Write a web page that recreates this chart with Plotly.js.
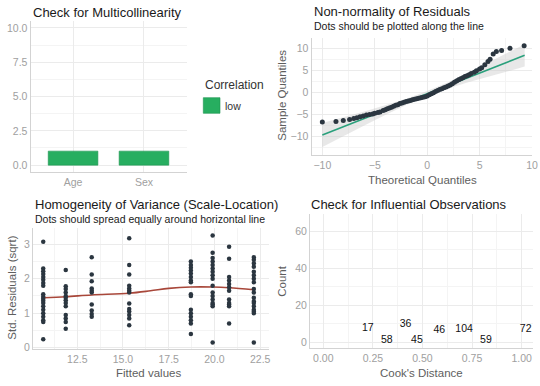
<!DOCTYPE html>
<html>
<head>
<meta charset="utf-8">
<script src="https://cdn.plot.ly/plotly-3.0.1.min.js"></script>
<style>html,body{margin:0;padding:0;background:#fff;}#chart{width:540px;height:386px;}</style>
</head>
<body>
<div id="chart"></div>
<script>
// ---- Panel 1: Multicollinearity (VIF) ----
const vifTerms = ["Age", "Sex"];
const vifValues = [1.02, 1.02];
const vifGroup = "low";

// ---- Panel 2: QQ plot ----
const qqX = [-10.0, -8.7, -8.0, -7.4, -7.0, -6.7, -6.4, -6.1, -5.8, -5.5, -5.2, -5.0, -4.7, -4.5, -4.2, -4.0, -3.8, -3.6, -3.4, -3.2, -3.0, -2.8, -2.6, -2.4, -2.2, -2.0, -1.8, -1.6, -1.4, -1.2, -1.0, -0.8, -0.6, -0.4, -0.2, 0.0, 0.2, 0.4, 0.6, 0.8, 1.0, 1.2, 1.4, 1.6, 1.8, 2.0, 2.2, 2.4, 2.6, 2.8, 3.0, 3.2, 3.4, 3.6, 3.8, 4.0, 4.2, 4.5, 4.7, 5.0, 5.2, 5.5, 5.8, 6.0, 6.3, 6.6, 7.1, 7.9, 9.25];
const qqY = [-6.7, -6.55, -6.35, -6.1, -5.9, -5.7, -5.5, -5.3, -5.1, -5.0, -4.85, -4.7, -4.5, -4.4, -4.1, -3.9, -3.7, -3.5, -3.35, -3.1, -2.9, -2.75, -2.5, -2.35, -2.2, -2.05, -1.9, -1.8, -1.65, -1.55, -1.4, -1.3, -1.2, -1.1, -0.95, -0.8, -0.5, -0.3, -0.05, 0.2, 0.45, 0.65, 0.85, 1.05, 1.25, 1.45, 1.7, 1.95, 2.3, 2.6, 2.9, 3.1, 3.35, 3.6, 3.8, 4.0, 4.3, 4.6, 4.9, 5.3, 5.6, 6.3, 7.0, 7.5, 8.7, 9.3, 9.5, 10.0, 10.6];
const qqLineX = [-10.0, 9.3];
const qqLineY = [-9.6, 8.41];
const bandX = [-10, -8, -6, -4, -2, 0, 2, 4, 6, 8, 9.3];
const bandUpper = [-6.9, -5.63, -4.27, -2.9, -1.44, 0.33, 2.3, 4.56, 7.03, 9.39, 10.9];
const bandLower = [-12.3, -9.83, -7.47, -5.1, -2.84, -0.87, 0.9, 2.36, 3.63, 4.99, 5.9];

// ---- Panel 3: Scale-location ----
const fittedLevels = [10.64, 11.87, 13.29, 15.34, 18.71, 19.9, 20.8, 22.15];
const stdResByLevel = [
  [3.07, 2.3, 2.22, 2.14, 2.05, 1.97, 1.88, 1.8, 1.55, 1.48, 1.42, 1.36, 1.3, 1.2, 1.1, 1.0, 0.9, 0.8, 0.75, 0.25],
  [2.25, 1.78, 1.7, 1.6, 1.5, 1.45, 1.38, 1.3, 1.2, 0.95, 0.85, 0.75, 0.55],
  [2.62, 2.12, 1.93, 1.72, 1.65, 1.6, 1.25, 1.08, 0.98, 0.9],
  [3.17, 2.4, 2.12, 1.8, 1.72, 1.65, 1.6, 1.28, 1.12, 1.05, 0.95, 0.85, 0.65],
  [2.5, 2.4, 2.32, 2.24, 2.15, 2.05, 1.95, 1.9, 1.55, 1.5, 1.1, 1.0, 0.9, 0.8, 0.7, 0.4],
  [3.25, 2.75, 2.6, 2.5, 2.4, 2.3, 2.2, 2.1, 2.0, 1.8, 1.6, 1.5, 1.4, 1.3, 1.25, 1.2, 0.15],
  [2.93, 2.58, 2.05, 1.95, 1.85, 1.75, 1.65, 1.4, 1.3, 1.25, 1.2, 0.7],
  [2.62, 2.55, 2.45, 2.35, 2.2, 2.1, 2.0, 1.9, 1.7, 1.6, 1.45, 1.35, 1.3, 1.2, 1.1, 1.05, 1.0, 0.15]
];
const smoothX = [10.64, 11.87, 13.29, 15.34, 16.5, 17.5, 18.71, 19.9, 20.8, 22.15];
const smoothY = [1.45, 1.48, 1.53, 1.58, 1.65, 1.72, 1.76, 1.76, 1.74, 1.68];

// ---- Panel 4: Influential observations ----
const cookIds = ["17", "58", "36", "45", "46", "104", "59", "72"];
const cookDist = [0.224, 0.32, 0.415, 0.472, 0.585, 0.71, 0.82, 1.02];
const cookCount = [7.2, 1.1, 9.8, 1.1, 6.3, 6.9, 1.1, 7.0];

// ---- build ----
const FONT = "Liberation Sans, Arial, sans-serif";
const tickFont = {family: FONT, size: 10.5, color: "#a0a0a0"};
const GRID = "#ebebeb", MINOR = "#f4f4f4", AXL = "#d3d3d3";
const POINT = "#2b3640";

function ax(extra) {
  return Object.assign({
    showgrid: true, gridcolor: GRID, gridwidth: 1,
    zeroline: false, showline: true, linecolor: AXL, linewidth: 1,
    ticks: "", tickfont: tickFont, fixedrange: true
  }, extra);
}

const sX = [], sY = [];
fittedLevels.forEach((f, i) => stdResByLevel[i].forEach(v => { sX.push(f); sY.push(v); }));

const traces = [
  {type: "bar", x: vifTerms, y: vifValues, name: vifGroup, width: 0.7,
   marker: {color: "#27ae60", line: {color: "#1f9450", width: 0.6}},
   xaxis: "x", yaxis: "y", showlegend: false, hoverinfo: "skip"},
  {type: "scatter", mode: "lines", x: bandX, y: bandLower, line: {width: 0, color: "rgba(0,0,0,0)"},
   xaxis: "x2", yaxis: "y2", showlegend: false, hoverinfo: "skip"},
  {type: "scatter", mode: "lines", x: bandX, y: bandUpper, fill: "tonexty", fillcolor: "rgba(200,200,200,0.42)",
   line: {width: 0, color: "rgba(0,0,0,0)"}, xaxis: "x2", yaxis: "y2", showlegend: false, hoverinfo: "skip"},
  {type: "scatter", mode: "lines", x: qqLineX, y: qqLineY, line: {color: "#2aa07c", width: 1.6},
   xaxis: "x2", yaxis: "y2", showlegend: false, hoverinfo: "skip"},
  {type: "scatter", mode: "markers", x: qqX, y: qqY, marker: {color: POINT, size: 5},
   xaxis: "x2", yaxis: "y2", showlegend: false, hoverinfo: "skip"},
  {type: "scatter", mode: "lines", x: smoothX, y: smoothY, line: {color: "#a8473a", width: 1.6, shape: "spline"},
   xaxis: "x3", yaxis: "y3", showlegend: false, hoverinfo: "skip"},
  {type: "scatter", mode: "markers", x: sX, y: sY, marker: {color: POINT, size: 4.5},
   xaxis: "x3", yaxis: "y3", showlegend: false, hoverinfo: "skip"},
  {type: "scatter", mode: "text", x: cookDist, y: cookCount, text: cookIds, textposition: "middle center",
   textfont: {family: FONT, size: 10.5, color: "#111"},
   xaxis: "x4", yaxis: "y4", showlegend: false, hoverinfo: "skip"}
];

const ttl = {family: FONT, size: 13, color: "#1a1a1a"};
const sub = {family: FONT, size: 10.5, color: "#1a1a1a"};
const axt = {family: FONT, size: 11.5, color: "#5e5e5e"};
function ann(text, x, y, font, extra) {
  return Object.assign({text, x, y, xref: "paper", yref: "paper", showarrow: false,
    xanchor: "left", yanchor: "middle", font}, extra || {});
}

const layout = {
  width: 540, height: 386,
  margin: {l: 0, r: 0, t: 0, b: 0},
  paper_bgcolor: "#fff", plot_bgcolor: "#fff",
  showlegend: false, bargap: 0.3,
  xaxis: ax({domain: [0.0565, 0.3454], anchor: "y", type: "category", range: [-0.6, 1.6]}),
  yaxis: ax({domain: [0.5544, 0.9456], anchor: "x", range: [-0.5, 10.5], tick0: 0, dtick: 2.5, tickformat: ".1f",
    minor: {dtick: 1.25, tick0: 0, showgrid: true, gridcolor: MINOR}}),
  xaxis2: ax({domain: [0.5769, 0.9852], anchor: "y2", range: [-11.03, 10.0], tick0: 0, dtick: 5,
    minor: {dtick: 2.5, tick0: 0, showgrid: true, gridcolor: MINOR}}),
  yaxis2: ax({domain: [0.5984, 0.9016], anchor: "x2", range: [-14.14, 12.33], tick0: 0, dtick: 5,
    minor: {dtick: 2.5, tick0: 0, showgrid: true, gridcolor: MINOR}}),
  xaxis3: ax({domain: [0.0611, 0.4981], anchor: "y3", range: [10.08, 22.98], tick0: 12.5, dtick: 2.5, tickformat: ".1f",
    minor: {dtick: 1.25, tick0: 0, showgrid: true, gridcolor: MINOR}}),
  yaxis3: ax({domain: [0.0946, 0.4093], anchor: "x3", range: [-0.05, 3.47], tick0: 0, dtick: 1,
    minor: {dtick: 0.5, tick0: 0, showgrid: true, gridcolor: MINOR}}),
  xaxis4: ax({domain: [0.5741, 0.987], anchor: "y4", range: [-0.067, 1.057], tick0: 0, dtick: 0.25, tickformat: ".2f",
    minor: {dtick: 0.125, tick0: 0, showgrid: true, gridcolor: MINOR}}),
  yaxis4: ax({domain: [0.0984, 0.4456], anchor: "x4", range: [-3.25, 69.4], tick0: 0, dtick: 20,
    minor: {dtick: 10, tick0: 0, showgrid: true, gridcolor: MINOR}}),
  shapes: [
    {type: "rect", xref: "paper", yref: "paper", x0: 0.3765, x1: 0.4074, y0: 0.7065, y1: 0.7469,
     fillcolor: "#27ae60", line: {color: "#1f9450", width: 0.6}}
  ],
  annotations: [
    ann("Check for Multicollinearity", 0.0574, 0.9689, ttl),
    ann("Correlation", 0.3754, 0.7798, {family: FONT, size: 12, color: "#333"}),
    ann("low", 0.413, 0.7254, {family: FONT, size: 10.5, color: "#333"}),
    ann("Non-normality of Residuals", 0.5778, 0.9715, ttl),
    ann("Dots should be plotted along the line", 0.5778, 0.9326, sub),
    ann("Sample Quantiles", 0.5217, 0.7539, axt, {xanchor: "center", textangle: -90}),
    ann("Theoretical Quantiles", 0.7833, 0.5337, axt, {xanchor: "center"}),
    ann("Homogeneity of Variance (Scale-Location)", 0.0611, 0.4715, ttl),
    ann("Dots should spread equally around horizontal line", 0.0611, 0.4326, sub),
    ann("Std. Residuals (sqrt)", 0.0217, 0.2539, axt, {xanchor: "center", textangle: -90}),
    ann("Fitted values", 0.2759, 0.0337, axt, {xanchor: "center"}),
    ann("Check for Influential Observations", 0.5722, 0.4715, ttl),
    ann("Count", 0.5217, 0.272, axt, {xanchor: "center", textangle: -90}),
    ann("Cook's Distance", 0.7809, 0.0337, axt, {xanchor: "center"})
  ]
};

Plotly.newPlot("chart", traces, layout, {staticPlot: true, displayModeBar: false});
</script>
</body>
</html>
